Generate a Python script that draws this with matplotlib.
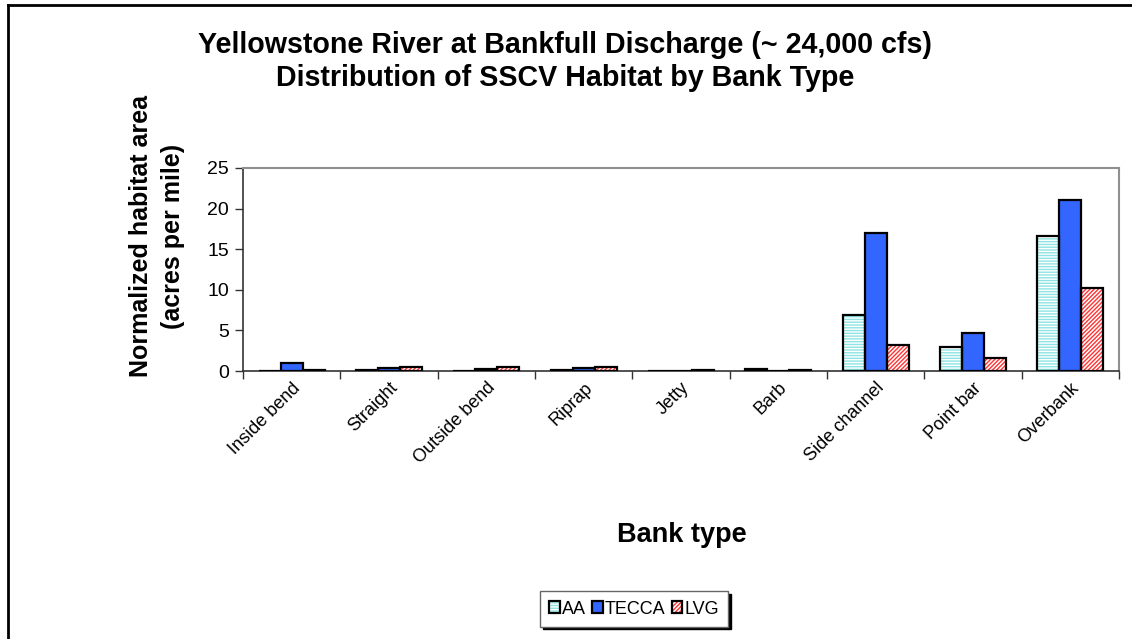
import matplotlib
matplotlib.use("Agg")
import matplotlib.pyplot as plt
import numpy as np
from matplotlib.patches import Patch
from matplotlib.lines import Line2D
from matplotlib.legend_handler import HandlerTuple

categories = ["Inside bend", "Straight", "Outside bend", "Riprap", "Jetty",
              "Barb", "Side channel", "Point bar", "Overbank"]
series_names = ["AA", "TECCA", "LVG"]
aa = [0.05, 0.1, 0.05, 0.1, 0.0, 0.2, 6.9, 3.0, 16.6]
tecca = [1.0, 0.4, 0.2, 0.4, 0.05, 0.05, 17.0, 4.7, 21.0]
lvg = [0.1, 0.5, 0.5, 0.5, 0.1, 0.1, 3.2, 1.6, 10.2]
yticks = [0, 5, 10, 15, 20, 25]

plt.rcParams['font.family'] = ['Liberation Sans', 'DejaVu Sans']
plt.rcParams['hatch.linewidth'] = 1.0

fig = plt.figure(figsize=(11.32, 6.39), dpi=100)
ax = fig.add_axes([243/1132, 1-371/639, (1119-243)/1132, (371-168)/639])

x = np.arange(len(categories))
w = 0.225
styles = [
    dict(face='#8FE3E3', hatch='------', hcol='white'),
    dict(face='#3366FF', hatch=None, hcol='#3366FF'),
    dict(face='white', hatch='////////', hcol='#FF3333'),
]
data = [aa, tecca, lvg]
for k, (vals, st) in enumerate(zip(data, styles)):
    pos = x + (k - 1) * w
    ax.bar(pos, vals, width=w, color=st['face'], hatch=st['hatch'],
           edgecolor=st['hcol'], linewidth=0, zorder=2)
    ax.bar(pos, vals, width=w, fill=False, edgecolor='black', linewidth=1.6, zorder=3)

ax.set_xlim(-0.5, len(categories) - 0.5)
ax.set_ylim(0, 25)
ax.set_yticks(yticks)
ax.set_xticks(x)
ax.set_xticklabels(categories, rotation=45, ha='right', rotation_mode='anchor', fontsize=13)
ax.set_xticks(np.arange(len(categories) + 1) - 0.5, minor=True)
ax.tick_params(axis='x', which='major', length=0, pad=6)
ax.tick_params(axis='x', which='minor', length=6, width=1, color='#333333')
ax.tick_params(axis='y', length=6, width=1, color='#333333', labelsize=14, pad=4)
for s in ['left', 'bottom']:
    ax.spines[s].set_color('#333333')
    ax.spines[s].set_linewidth(1.2)
for s in ['top', 'right']:
    ax.spines[s].set_color('#909090')
    ax.spines[s].set_linewidth(1.5)

fig.text(157/1132, 1-236/639, "Normalized habitat area\n(acres per mile)", fontsize=18,
         fontweight='bold', rotation=90, ha='center', va='center', linespacing=1.45,
         multialignment='center')
fig.text(682/1132, 1-535/639, "Bank type", fontsize=19.5, fontweight='bold',
         ha='center', va='center')

fig.text(565/1132, 1-45/639, "Yellowstone River at Bankfull Discharge (~ 24,000 cfs)",
         fontsize=20.6, fontweight='bold', ha='center', va='center')
fig.text(565/1132, 1-78/639, "Distribution of SSCV Habitat by Bank Type",
         fontsize=20.6, fontweight='bold', ha='center', va='center')

handles = []
for st in styles:
    fillp = Patch(facecolor=st['face'], hatch=st['hatch'], edgecolor=st['hcol'], linewidth=0)
    outp = Patch(fill=False, edgecolor='black', linewidth=1.6)
    handles.append((fillp, outp))
leg = fig.legend(handles=handles, labels=series_names, loc='center',
                 bbox_to_anchor=(634/1132, 1-609/639),
                 handler_map={tuple: HandlerTuple(ndivide=1, pad=0)},
                 ncol=3, fontsize=13, frameon=True, fancybox=False,
                 handlelength=0.6, handleheight=0.65, handletextpad=0.1,
                 columnspacing=0.35, borderpad=0.5, borderaxespad=0,
                 shadow={'facecolor': 'black', 'edgecolor': 'black', 'alpha': 1})
leg.get_frame().set_edgecolor('#666666')
leg.get_frame().set_linewidth(1.0)

# outer chart border (left and top)
fig.add_artist(Line2D([8/1132, 8/1132], [0, 1-5/639], transform=fig.transFigure,
                      color='black', linewidth=2))
fig.add_artist(Line2D([8/1132, 1], [1-5/639, 1-5/639], transform=fig.transFigure,
                      color='black', linewidth=2))

fig.savefig("out.png", dpi=100)
